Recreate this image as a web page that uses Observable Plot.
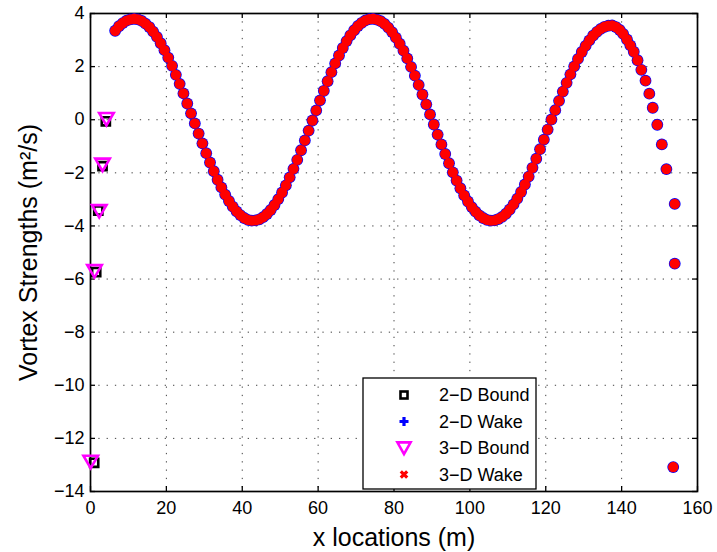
<!DOCTYPE html>
<html><head><meta charset="utf-8">
<script src="https://cdn.jsdelivr.net/npm/d3@7"></script>
<script src="https://cdn.jsdelivr.net/npm/@observablehq/plot@0.6"></script>
<style>body{margin:0;background:#fff;} #chart svg{display:block}</style>
</head><body><div id="chart"></div>
<script>
// ---- data ----
const xTicks = [0, 20, 40, 60, 80, 100, 120, 140, 160];
const yTicks = [4, 2, 0, -2, -4, -6, -8, -10, -12, -14];

// 2-D bound vortices (black squares)
const bound2dX = [0.97, 1.5, 2.05, 3.17, 4.04];
const bound2dY = [-12.92, -5.74, -3.42, -1.75, -0.06];
// 3-D bound vortices (magenta down triangles)
const bound3dX = [0.05, 1.05, 2.3, 3.17, 4.2];
const bound3dY = [-12.88, -5.70, -3.44, -1.69, 0.03];

// wake vortices (2-D and 3-D coincide in the picture)
const wakeX = [6.5,7.5,8.5,9.5,10.5,11.5,12.5,13.5,14.5,15.5,16.5,17.5,18.5,19.5,20.5,21.5,22.5,23.5,24.5,25.5,
26.5,27.5,28.5,29.5,30.5,31.5,32.5,33.5,34.5,35.5,36.5,37.5,38.5,39.5,40.5,41.5,42.5,43.5,44.5,45.5,
46.5,47.5,48.5,49.5,50.5,51.5,52.5,53.5,54.5,55.5,56.5,57.5,58.5,59.5,60.5,61.5,62.5,63.5,64.5,65.5,
66.5,67.5,68.5,69.5,70.5,71.5,72.5,73.5,74.5,75.5,76.5,77.5,78.5,79.5,80.5,81.5,82.5,83.5,84.5,85.5,
86.5,87.5,88.5,89.5,90.5,91.5,92.5,93.5,94.5,95.5,96.5,97.5,98.5,99.5,100.5,101.5,102.5,103.5,104.5,105.5,
106.5,107.5,108.5,109.5,110.5,111.5,112.5,113.5,114.5,115.5,116.5,117.5,118.5,119.5,120.5,121.5,122.5,123.5,124.5,125.5,
126.5,127.5,128.5,129.5,130.5,131.5,132.5,133.5,134.5,135.5,136.5,137.5,
138.5,139.5,140.4,141.4,142.3,143.2,144.2,145.2,146.3,147.3,148.2,149.4,150.6,151.8,154.0,154.0,153.6];
const wakeY = [3.35,3.52,3.64,3.73,3.78,3.80,3.78,3.72,3.62,3.49,
3.32,3.12,2.88,2.62,2.34,2.03,1.69,1.35,0.99,0.61,
0.24,-0.14,-0.52,-0.89,-1.26,-1.61,-1.94,-2.26,-2.55,-2.82,
-3.06,-3.27,-3.45,-3.59,-3.70,-3.77,-3.80,-3.79,-3.75,-3.67,
-3.55,-3.40,-3.21,-2.99,-2.74,-2.47,-2.17,-1.85,-1.51,-1.15,
-0.78,-0.41,-0.03,0.35,0.73,1.09,1.45,1.79,2.12,2.42,
2.70,2.96,3.18,3.37,3.53,3.65,3.74,3.79,3.80,3.77,
3.71,3.61,3.47,3.30,3.09,2.86,2.60,2.31,1.99,1.66,
1.31,0.95,0.58,0.20,-0.18,-0.56,-0.93,-1.29,-1.64,-1.98,
-2.29,-2.58,-2.85,-3.08,-3.29,-3.46,-3.60,-3.70,-3.77,-3.80,
-3.79,-3.74,-3.66,-3.54,-3.38,-3.19,-2.97,-2.72,-2.44,-2.14,
-1.81,-1.47,-1.11,-0.75,-0.37,0.01,0.36,0.71,1.06,1.39,
1.71,2.01,2.29,2.55,2.78,2.99,3.17,3.31,3.42,3.50,3.54,3.55,
3.49,3.38,3.23,3.02,2.80,2.56,2.24,1.88,1.47,0.98,0.45,-0.19,-0.93,-1.86,-3.17,-5.42,-13.08];

const legendLabels = ["2\u2212D Bound", "2\u2212D Wake", "3\u2212D Bound", "3\u2212D Wake"];

// ---- layout ----
const W = 717, H = 552, mL = 90, mR = 20, mT = 13, mB = 61;
const fw = W - mL - mR, fh = H - mT - mB;
const font = "'Liberation Sans', Arial, Helvetica, sans-serif";

const bound2d = bound2dX.map((x, i) => ({x, y: bound2dY[i]}));
const bound3d = bound3dX.map((x, i) => ({x, y: bound3dY[i]}));
const wake = wakeX.map((x, i) => ({x, y: wakeY[i]}));

const triangleDown = {
  draw(ctx, size) {
    const r = Math.sqrt(size / Math.PI);
    ctx.moveTo(-1.07 * r, -0.88 * r);
    ctx.lineTo(1.07 * r, -0.88 * r);
    ctx.lineTo(0, 0.95 * r);
    ctx.closePath();
  }
};

const gridStyle = {stroke: "#000", strokeOpacity: 0.75, strokeWidth: 1, strokeDasharray: "1.3,7"};

const plot = Plot.plot({
  width: W, height: H,
  marginLeft: mL, marginRight: mR, marginTop: mT, marginBottom: mB,
  style: {fontFamily: font, fontSize: "18px", background: "white", color: "black"},
  x: {domain: [0, 160], label: null},
  y: {domain: [-14, 4], label: null},
  marks: [
    Plot.gridX(xTicks, gridStyle),
    Plot.gridY(yTicks, gridStyle),
    Plot.tickX(xTicks, {x: d => d, insetTop: fh - 5, stroke: "#000", strokeWidth: 1.3}),
    Plot.tickX(xTicks, {x: d => d, insetBottom: fh - 5, stroke: "#000", strokeWidth: 1.3}),
    Plot.tickY(yTicks, {y: d => d, insetRight: fw - 5, stroke: "#000", strokeWidth: 1.3}),
    Plot.tickY(yTicks, {y: d => d, insetLeft: fw - 5, stroke: "#000", strokeWidth: 1.3}),
    Plot.axisX(xTicks, {tickSize: 0, tickPadding: 10, label: null}),
    Plot.axisY(yTicks, {tickSize: 0, tickPadding: 6, label: null}),
    Plot.frame({stroke: "#000", strokeWidth: 1.7}),
    // data
    Plot.dot(bound2d, {x: "x", y: "y", symbol: "square", r: 4.6, fill: "none", stroke: "#000", strokeWidth: 2.6}),
    Plot.dot(wake, {x: "x", y: "y", r: 5.9, fill: "#0000ff", stroke: "none"}),
    Plot.dot(bound3d, {x: "x", y: "y", symbol: triangleDown, r: 6.8, fill: "none", stroke: "#ff00ff", strokeWidth: 2.6}),
    Plot.dot(wake, {x: "x", y: "y", r: 5.2, fill: "#ff0000", stroke: "none"}),
    // axis titles
    Plot.text(["x locations (m)"], {frameAnchor: "bottom", dy: 46, textAnchor: "middle", lineAnchor: "middle", fontSize: 25, fill: "#000"}),
    Plot.text(["Vortex Strengths (m\u00b2/s)"], {frameAnchor: "left", dx: -62, rotate: -90, textAnchor: "middle", lineAnchor: "middle", fontSize: 25, fill: "#000"})
  ]
});
document.getElementById("chart").appendChild(plot);

// ---- legend (inside the SVG) ----
const svg = d3.select(plot);
const lg = svg.append("g").attr("font-family", font).attr("font-size", 18).attr("text-anchor", "start");
const lx0 = 363, ly0 = 378, lx1 = 536, ly1 = 489;
lg.append("rect").attr("x", lx0).attr("y", ly0).attr("width", lx1 - lx0).attr("height", ly1 - ly0)
  .attr("fill", "white").attr("stroke", "#000").attr("stroke-width", 1.3);
const rowY = [395, 421.5, 448, 474.5];
const mx = 404;
legendLabels.forEach((t, i) => {
  lg.append("text").attr("x", 439).attr("y", rowY[i]).attr("dy", "0.35em").attr("fill", "#000")
    .attr("text-anchor", "start").text(t);
});
// square
lg.append("rect").attr("x", mx - 3.5).attr("y", rowY[0] - 3.5).attr("width", 7).attr("height", 7)
  .attr("fill", "none").attr("stroke", "#000").attr("stroke-width", 2.6);
// plus
lg.append("path").attr("d", `M${mx-4.5},${rowY[1]}H${mx+4.5}M${mx},${rowY[1]-4.5}V${rowY[1]+4.5}`)
  .attr("stroke", "#0000ff").attr("stroke-width", 3.2).attr("fill", "none");
// triangle down
lg.append("path").attr("d", `M${mx-6.6},${rowY[2]-5.6}L${mx+6.6},${rowY[2]-5.6}L${mx},${rowY[2]+6.2}Z`)
  .attr("stroke", "#ff00ff").attr("stroke-width", 2.6).attr("fill", "none").attr("stroke-linejoin", "miter");
// times
lg.append("path").attr("d", `M${mx-3.2},${rowY[3]-3.2}L${mx+3.2},${rowY[3]+3.2}M${mx-3.2},${rowY[3]+3.2}L${mx+3.2},${rowY[3]-3.2}`)
  .attr("stroke", "#ff0000").attr("stroke-width", 3.2).attr("fill", "none");
</script>
</body></html>
